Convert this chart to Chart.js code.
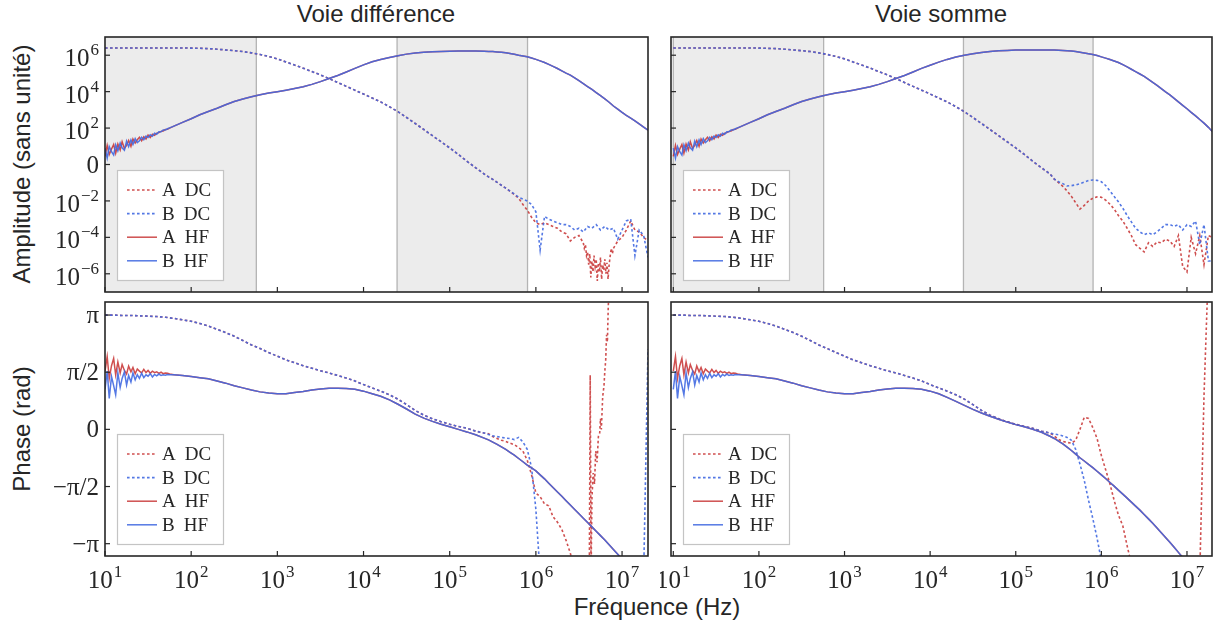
<!DOCTYPE html>
<html lang="fr">
<head>
<meta charset="utf-8">
<title>Voie différence / Voie somme</title>
<script src="https://cdn.jsdelivr.net/npm/chart.js@4.4.1/dist/chart.umd.min.js"></script>
<style>
  html, body { margin: 0; padding: 0; background: #fff; }
  #page { position: relative; width: 1214px; height: 632px; overflow: hidden;
          font-family: "Liberation Sans", Arial, sans-serif; color: #262626; }
  canvas { position: absolute; }
  .lbl { position: absolute; font-size: 24px; line-height: 24px; white-space: nowrap;
         transform: translate(-50%, -50%); }
  .rot { transform: translate(-50%, -50%) rotate(-90deg); }
</style>
</head>
<body>
<div id="page">
  <div class="lbl" style="left:376px; top:14px">Voie différence</div>
  <div class="lbl" style="left:941px; top:14px">Voie somme</div>
  <div class="lbl rot" style="left:22px; top:164px">Amplitude (sans unité)</div>
  <div class="lbl rot" style="left:22px; top:429px">Phase (rad)</div>
  <div class="lbl" style="left:657px; top:607px">Fréquence (Hz)</div>
  <canvas id="ampDiff" width="656" height="268" style="left:0; top:28px"></canvas>
  <canvas id="phaseDiff" width="656" height="300" style="left:0; top:296px"></canvas>
  <canvas id="ampSum" width="554" height="268" style="left:660px; top:28px"></canvas>
  <canvas id="phaseSum" width="554" height="300" style="left:660px; top:296px"></canvas>
</div>
<script>
// ---- frequencies (Hz) ----
// low band, where the HF channels are noisy
var fLow = [10, 10.6, 11.2, 11.9, 12.6, 13.3, 14.1, 15, 15.8, 16.8, 17.8, 18.8, 20, 21.1, 22.4, 23.7,
  25.1, 26.6, 28.2, 29.9, 31.6, 33.5, 35.5, 37.6, 39.8, 42.2, 44.7, 47.3, 50.1, 53.1, 56.2];
var fDcLow = [10, 12.6, 15.8, 20, 25.1, 31.6, 39.8, 50.1];
var fMid = [63.1, 79.4, 100, 126, 158, 200, 251, 316, 398, 501, 631, 794, 1000, 1259, 1585, 1995,
  2512, 3162, 3981, 5012, 6310, 7943, 1e4, 1.26e4, 1.58e4, 2e4, 2.51e4, 3.16e4, 3.98e4, 5.01e4,
  6.31e4, 7.94e4, 1e5, 1.26e5, 1.58e5, 2e5, 2.51e5];
var fHigh = [2.82e5, 3.16e5, 3.55e5, 3.98e5, 4.47e5, 5.01e5, 5.62e5, 6.31e5, 7.08e5, 7.94e5, 8.91e5,
  1e6, 1.12e6, 1.26e6, 1.41e6, 1.58e6, 1.78e6, 2e6, 2.24e6, 2.51e6, 2.82e6, 3.16e6, 3.55e6, 3.98e6,
  4.47e6, 5.01e6, 5.62e6, 6.31e6, 7.08e6, 7.94e6, 8.91e6, 1e7, 1.12e7, 1.26e7, 1.41e7, 1.58e7, 1.78e7, 2e7];
// finer steps where the A DC amplitude (voie différence) is very noisy
var fNoiseDiff = [3.55e6, 3.65e6, 3.76e6, 3.87e6, 3.98e6, 4.10e6, 4.22e6, 4.34e6, 4.47e6, 4.60e6, 4.73e6,
  4.87e6, 5.01e6, 5.16e6, 5.31e6, 5.46e6, 5.62e6, 5.79e6, 5.96e6, 6.13e6, 6.31e6, 6.49e6, 6.68e6, 6.88e6,
  7.08e6, 7.29e6, 7.50e6, 7.72e6, 7.94e6];

// ---- amplitude, in decades (log10 of the amplitude) ----
var hfAmpLowA = [0.45, 1.05, 0.55, 0.85, 1.10, 0.62, 1.12, 0.80, 1.25, 0.88, 1.05, 1.32, 1.00, 1.40, 1.18, 1.36,
  1.50, 1.30, 1.52, 1.40, 1.62, 1.48, 1.66, 1.60, 1.72, 1.75, 1.82, 1.84, 1.92, 1.94, 2.00];
var hfAmpLowB = [0.90, 0.35, 0.98, 0.70, 0.52, 1.08, 0.75, 1.18, 0.92, 0.78, 1.28, 0.98, 1.35, 1.10, 1.42, 1.20,
  1.30, 1.50, 1.36, 1.56, 1.48, 1.63, 1.55, 1.72, 1.66, 1.80, 1.80, 1.90, 1.90, 1.96, 2.01];
var hfAmpDiff = [2.11, 2.31, 2.51, 2.73, 2.91, 3.09, 3.28, 3.46, 3.60, 3.72, 3.83, 3.93, 4.00, 4.08, 4.17, 4.27,
  4.40, 4.55, 4.72, 4.89, 5.08, 5.28, 5.47, 5.64, 5.76, 5.88, 5.97, 6.06, 6.12, 6.16, 6.19, 6.21, 6.22, 6.23,
  6.23, 6.23, 6.22,
  6.21, 6.20, 6.18, 6.16, 6.13, 6.09, 6.05, 6.00, 5.96, 5.91, 5.85, 5.77, 5.69, 5.60, 5.50, 5.39, 5.27, 5.14,
  5.02, 4.91, 4.76, 4.60, 4.44, 4.28, 4.12, 3.95, 3.78, 3.60, 3.42, 3.21, 3.04, 2.86, 2.70, 2.55, 2.40, 2.23,
  2.05, 1.88];
var hfAmpSum = [2.11, 2.31, 2.51, 2.73, 2.91, 3.09, 3.28, 3.46, 3.60, 3.72, 3.83, 3.93, 4.00, 4.08, 4.17, 4.27,
  4.40, 4.55, 4.72, 4.89, 5.08, 5.28, 5.45, 5.62, 5.77, 5.90, 6.00, 6.08, 6.15, 6.20, 6.24, 6.26, 6.28, 6.29,
  6.29, 6.29, 6.28,
  6.28, 6.27, 6.26, 6.25, 6.23, 6.20, 6.16, 6.12, 6.08, 6.04, 5.98, 5.91, 5.84, 5.76, 5.68, 5.60, 5.48, 5.36,
  5.23, 5.10, 4.97, 4.84, 4.67, 4.51, 4.34, 4.17, 3.99, 3.82, 3.63, 3.44, 3.25, 3.06, 2.86, 2.67, 2.47, 2.27,
  2.04, 1.78];
var dcAmpLow = [6.40, 6.40, 6.40, 6.40, 6.40, 6.40, 6.40, 6.40];
var dcAmpMid = [6.40, 6.40, 6.39, 6.38, 6.36, 6.33, 6.29, 6.25, 6.20, 6.13, 6.04, 5.93, 5.80, 5.63, 5.46, 5.29,
  5.10, 4.92, 4.72, 4.50, 4.29, 4.08, 3.87, 3.65, 3.44, 3.17, 2.90, 2.58, 2.25, 1.92, 1.58, 1.25, 0.91, 0.55,
  0.18, -0.18, -0.52];
var dcAmpDiffA = [-0.68, -0.82, -0.98, -1.14, -1.30, -1.47, -1.65, -1.85, -2.2, -2.5, -2.9, -3.2, -3.3, -3.2,
  -3.3, -3.4, -3.5, -3.7, -3.8, -4.2, -4.0, -3.9, -4.3, null, null, null, null, null, null, -4.6, -4.2, -4.0,
  -3.6, -3.1, -3.6, -3.7, -4.0, -4.2];
var dcAmpNoiseDiffA = [-4.3, -4.6, -4.4, -5.0, -4.8, -5.5, -4.9, -6.2, -5.3, -5.9, -5.0, -5.6, -5.2, -6.4, -5.4,
  -5.9, -5.1, -6.3, -5.5, -5.8, -5.2, -6.0, -5.4, -6.3, -5.5, -5.0, -4.6, -4.9, -4.6];
var dcAmpDiffB = [-0.68, -0.82, -0.98, -1.14, -1.30, -1.46, -1.62, -1.80, -1.9, -2.0, -2.2, -2.6, -4.7, -2.85,
  -3.0, -3.1, -3.2, -3.3, -3.3, -3.4, -3.6, -3.5, -3.7, -3.4, -3.5, -3.3, -3.6, -3.4, -3.6, -3.5, -4.1, -3.6,
  -3.1, -3.0, -5.0, -3.6, -3.9, -5.1];
var dcAmpSumA = [-0.80, -1.00, -1.20, -1.45, -1.75, -2.1, -2.45, -2.25, -2.0, -1.85, -1.78, -1.8, -1.95, -2.18,
  -2.45, -2.8, -3.1, -3.5, -3.9, -4.4, -4.6, -4.8, -4.3, -4.5, -4.25, -4.3, -4.1, -4.2, -4.5, -3.9, -5.6, -5.9,
  -4.0, -4.9, -3.9, -5.5, -3.9, -4.0];
var dcAmpSumB = [-0.80, -0.95, -1.05, -1.18, -1.16, -1.12, -1.05, -0.97, -0.88, -0.85, -0.87, -0.95, -1.15,
  -1.45, -1.75, -2.05, -2.4, -2.8, -3.15, -3.5, -3.7, -3.85, -3.75, -3.85, -3.7, -3.5, -3.3, -3.3, -3.4, -3.3,
  -3.6, -3.3, -3.4, -3.1, -4.4, -3.3, -5.3, -5.3];

// ---- phase (rad) ----
var hfPhaseLowA = [1.60, 2.00, 1.40, 1.75, 1.95, 1.50, 1.85, 1.55, 1.78, 1.62, 1.52, 1.74, 1.58, 1.70, 1.53, 1.66,
  1.60, 1.55, 1.65, 1.56, 1.62, 1.54, 1.60, 1.56, 1.58, 1.54, 1.57, 1.53, 1.55, 1.54, 1.52];
var hfPhaseLowB = [1.10, 1.60, 0.85, 1.45, 1.20, 0.95, 1.55, 1.15, 1.40, 1.58, 1.22, 1.48, 1.30, 1.55, 1.36, 1.50,
  1.40, 1.54, 1.42, 1.50, 1.46, 1.53, 1.44, 1.51, 1.47, 1.52, 1.48, 1.50, 1.49, 1.51, 1.50];
var hfPhaseDiff = [1.50, 1.48, 1.45, 1.42, 1.39, 1.33, 1.27, 1.20, 1.14, 1.08, 1.03, 1.00, 0.98, 0.98, 1.01, 1.04,
  1.08, 1.11, 1.13, 1.13, 1.12, 1.10, 1.05, 0.98, 0.91, 0.81, 0.69, 0.56, 0.42, 0.31, 0.22, 0.14, 0.07, 0.00,
  -0.07, -0.15, -0.24,
  -0.29, -0.35, -0.41, -0.48, -0.55, -0.63, -0.71, -0.80, -0.89, -0.98, -1.06, -1.14, -1.25, -1.36, -1.48,
  -1.60, -1.72, -1.84, -1.96, -2.08, -2.20, -2.32, -2.44, -2.56, -2.68, -2.80, -2.92, -3.04, -3.17, -3.30,
  -3.43, -3.56, -3.69, null, null, null, null, null];
var hfPhaseSum = [1.50, 1.48, 1.45, 1.42, 1.39, 1.33, 1.27, 1.20, 1.14, 1.08, 1.03, 1.00, 0.98, 0.98, 1.01, 1.04,
  1.08, 1.11, 1.13, 1.13, 1.12, 1.10, 1.05, 0.98, 0.88, 0.77, 0.66, 0.55, 0.45, 0.36, 0.28, 0.20, 0.13, 0.07,
  0.00, -0.08, -0.19,
  -0.25, -0.32, -0.40, -0.49, -0.58, -0.68, -0.78, -0.87, -0.96, -1.05, -1.15, -1.25, -1.35, -1.46, -1.56,
  -1.67, -1.78, -1.89, -2.00, -2.11, -2.22, -2.34, -2.46, -2.58, -2.71, -2.84, -2.97, -3.10, -3.24, -3.38,
  -3.52, -3.66, null, null, null, null, null, null];
var dcPhaseLow = [3.14, 3.14, 3.13, 3.13, 3.12, 3.11, 3.10, 3.08];
var dcPhaseMid = [3.05, 3.01, 2.97, 2.91, 2.84, 2.75, 2.66, 2.56, 2.44, 2.32, 2.22, 2.11, 2.01, 1.91, 1.83, 1.75,
  1.68, 1.61, 1.55, 1.48, 1.41, 1.33, 1.23, 1.14, 1.05, 0.95, 0.83, 0.68, 0.52, 0.39, 0.29, 0.21, 0.14, 0.08,
  0.03, -0.05, -0.10];
var dcPhaseDiffA = [-0.12, -0.20, -0.25, -0.30, -0.33, -0.38, -0.42, -0.50, -0.60, -0.85, -1.25, -1.75, -1.85,
  -2.05, -2.10, -2.40, -2.55, -2.75, -3.05, -3.40, -3.9,
  null, null, null, null, null, null, null, null, null, null, null, null, null, null, null, null, null];
var fSpikeDiff = [4.17e6, 4.27e6, 4.37e6, 4.47e6, 4.62e6, 4.79e6, 4.95e6, 5.13e6, 5.31e6, 5.5e6, 5.62e6,
  5.75e6, 5.96e6, 6.17e6, 6.31e6, 6.46e6, 6.61e6, 6.76e6, 6.92e6, 7.08e6];
var dcPhaseSpikeDiffA = [-4.0, 1.49, -4.0, -1.9, -1.2, -1.5, -0.6, -0.9, -0.2, -0.1, 0.3, 0.0, 0.9, 1.2, 1.6,
  1.9, 2.6, 2.4, 3.4, 3.8];
var dcPhaseDiffB = [-0.14, -0.18, -0.20, -0.22, -0.24, -0.25, -0.28, -0.22, -0.35, -0.55, -1.05, -2.2, -4.0,
  null, null, null, null, null, null, null, null, null, null, null, null, null, null, null, null, null, null,
  null, null, null, null, null, -4.0, 2.2];
var dcPhaseSumA = [-0.18, -0.28, -0.33, -0.36, -0.38, -0.30, 0.00, 0.33, 0.30, 0.05, -0.25, -0.72, -1.10, -1.50,
  -1.95, -2.35, -2.65, -3.20, -3.70,
  null, null, null, null, null, null, null, null, null, null, null, null, null, null, null, -4.0, 0.9, 4.5, null];
var dcPhaseSumB = [-0.13, -0.15, -0.18, -0.22, -0.30, -0.55, -0.95, -1.40, -1.95, -2.45, -2.99, -3.6,
  null, null, null, null, null, null, null, null, null, null, null, null, null, null, null, null, null, null,
  null, null, null, null, null, null, null, null];

// ---- axes / shading ----
var freqTicks = [1e1, 1e2, 1e3, 1e4, 1e5, 1e6, 1e7];
var freqTickLabels = ['10^{1}', '10^{2}', '10^{3}', '10^{4}', '10^{5}', '10^{6}', '10^{7}'];
var ampTicks = [1e-6, 1e-4, 1e-2, 1, 1e2, 1e4, 1e6];
var ampTickLabels = ['10^{−6}', '10^{−4}', '10^{−2}', '0', '10^{2}', '10^{4}', '10^{6}'];
var phaseTicks = [-Math.PI, -Math.PI / 2, 0, Math.PI / 2, Math.PI];
var phaseTickLabels = ['−π', '−π/2', '0', 'π/2', 'π'];
var bandsF = [[10, 570], [2.45e4, 8.0e5]];

var RED = 'rgba(196, 40, 40, 0.82)';
var BLUE = 'rgba(65, 105, 225, 0.9)';
var INK = '#262626';
var SERIF = "'Liberation Serif', 'DejaVu Serif', serif";
var BASE_FONT = '25px ' + SERIF;
var EXP_FONT = '17px ' + SERIF;

function toPoints(freqs, values, conv) {
  return freqs.map(function (f, i) {
    return { x: f, y: values[i] === null ? null : conv(values[i]) };
  });
}
var dec = function (v) { return Math.pow(10, v); };
var rad = function (v) { return v; };
var GAP = [{ x: 2e7, y: null }];

function serie(label, points, order) {
  var dc = label.indexOf('DC') > 0;
  return {
    label: label,
    data: points,
    order: order,
    borderColor: label[0] === 'A' ? RED : BLUE,
    borderWidth: dc ? 1.6 : 1.5,
    borderDash: dc ? [2.6, 2.4] : [],
    pointRadius: 0,
    tension: 0,
    fill: false,
    clip: 0,
    spanGaps: false
  };
}

// tick label like 10^{-6}: base + raised exponent
function drawTickLabel(ctx, text, x, baseline, align) {
  var m = /^(.*)\^\{(.*)\}$/.exec(text);
  var base = m ? m[1] : text, exp = m ? m[2] : '';
  ctx.font = BASE_FONT;
  var wb = ctx.measureText(base).width;
  ctx.font = EXP_FONT;
  var we = exp ? ctx.measureText(exp).width + 1 : 0;
  var left = align === 'right' ? x - wb - we : x - (wb + we) / 2;
  ctx.textAlign = 'left';
  ctx.textBaseline = 'alphabetic';
  ctx.fillStyle = INK;
  ctx.font = BASE_FONT;
  ctx.fillText(base, left, baseline);
  if (exp) {
    ctx.font = EXP_FONT;
    ctx.fillText(exp, left + wb + 1, baseline - 11);
  }
}

// bands, frame, inward ticks, tick labels and legend box
var decor = {
  id: 'decor',
  beforeDatasetsDraw: function (chart, args, o) {
    if (!o.bands) return;
    var ctx = chart.ctx, a = chart.chartArea, x = chart.scales.x;
    ctx.save();
    o.bands.forEach(function (b) {
      var x0 = Math.max(a.left, x.getPixelForValue(b[0]));
      var x1 = Math.min(a.right, x.getPixelForValue(b[1]));
      ctx.fillStyle = '#ececec';
      ctx.fillRect(x0, a.top, x1 - x0, a.bottom - a.top);
      ctx.strokeStyle = '#b4b4b4';
      ctx.lineWidth = 1.3;
      [x0, x1].forEach(function (px) {
        if (px > a.left + 1 && px < a.right - 1) {
          ctx.beginPath(); ctx.moveTo(px, a.top); ctx.lineTo(px, a.bottom); ctx.stroke();
        }
      });
    });
    ctx.restore();
  },
  afterDatasetsDraw: function (chart, args, o) {
    var ctx = chart.ctx, a = chart.chartArea, x = chart.scales.x, y = chart.scales.y;
    ctx.save();
    ctx.strokeStyle = INK;
    ctx.lineWidth = 1.2;
    x.ticks.forEach(function (t, i) {
      var px = x.getPixelForValue(t.value);
      if (px < a.left - 1 || px > a.right) return;
      ctx.beginPath(); ctx.moveTo(px, a.bottom); ctx.lineTo(px, a.bottom - 5); ctx.stroke();
      if (o.xLabels) drawTickLabel(ctx, o.xLabels[i], px, a.bottom + 32, 'center');
    });
    y.ticks.forEach(function (t, i) {
      var py = y.getPixelForValue(t.value);
      ctx.strokeStyle = INK;
      ctx.lineWidth = 1.2;
      ctx.beginPath(); ctx.moveTo(a.left, py); ctx.lineTo(a.left + 5, py); ctx.stroke();
      if (o.yLabels) {
        var txt = o.yLabels[i];
        drawTickLabel(ctx, txt, a.left - 6, py + (txt.indexOf('^') > 0 ? 11 : 8), 'right');
      }
    });
    ctx.strokeStyle = INK;
    ctx.lineWidth = 1.6;
    ctx.strokeRect(a.left, a.top, a.right - a.left, a.bottom - a.top);

    // legend, lower left corner
    var bx = a.left + 12, bw = 106, bh = 110, by = a.bottom - 12 - bh;
    ctx.fillStyle = '#ffffff';
    ctx.fillRect(bx, by, bw, bh);
    ctx.strokeStyle = '#c4c4c4';
    ctx.lineWidth = 1.2;
    ctx.strokeRect(bx + 0.5, by + 0.5, bw, bh);
    ctx.font = '19px ' + SERIF;
    ctx.textBaseline = 'middle';
    ctx.textAlign = 'left';
    chart.data.datasets.forEach(function (ds, i) {
      var cy = by + 20 + i * 23.6;
      ctx.setLineDash(ds.borderDash);
      ctx.strokeStyle = ds.borderColor;
      ctx.lineWidth = ds.borderWidth;
      ctx.beginPath(); ctx.moveTo(bx + 10, cy); ctx.lineTo(bx + 40, cy); ctx.stroke();
      ctx.setLineDash([]);
      ctx.fillStyle = INK;
      var parts = ds.label.split(' ');
      ctx.fillText(parts[0], bx + 45, cy + 1);
      ctx.fillText(parts[1], bx + 45 + ctx.measureText(parts[0]).width + 9, cy + 1);
    });
    ctx.restore();
  }
};

function noPad(s) { s.paddingLeft = 0; s.paddingRight = 0; s.paddingTop = 0; s.paddingBottom = 0; }

function panel(id, c) {
  return new Chart(document.getElementById(id), {
    type: 'line',
    data: { datasets: c.datasets },
    options: {
      responsive: false,
      animation: false,
      devicePixelRatio: 1,
      layout: { autoPadding: false, padding: { left: 0, top: c.padTop, right: c.padRight, bottom: 0 } },
      plugins: {
        legend: { display: false },
        tooltip: { enabled: false },
        decor: { bands: c.bands, xLabels: c.xLabels, yLabels: c.yLabels }
      },
      scales: {
        x: {
          type: 'logarithmic',
          min: c.xMin,
          max: c.xMax,
          afterBuildTicks: function (s) { s.ticks = freqTicks.map(function (v) { return { value: v }; }); },
          afterFit: function (s) { s.height = c.xHeight; noPad(s); },
          grid: { display: false, drawTicks: false },
          border: { display: false },
          ticks: { display: false }
        },
        y: {
          type: c.yType,
          min: c.yMin,
          max: c.yMax,
          afterBuildTicks: function (s) { s.ticks = c.yTicks.map(function (v) { return { value: v }; }); },
          afterFit: function (s) { s.width = c.yWidth; noPad(s); },
          grid: { display: false, drawTicks: false },
          border: { display: false },
          ticks: { display: false }
        }
      }
    },
    plugins: [decor]
  });
}

var fHF = fLow.concat(fMid, fHigh);
var fDC = fDcLow.concat(fMid, fHigh);

panel('ampDiff', {
  datasets: [
    serie('A DC', toPoints(fDC, dcAmpLow.concat(dcAmpMid, dcAmpDiffA), dec)
      .concat(GAP, toPoints(fNoiseDiff, dcAmpNoiseDiffA, dec)), 3),
    serie('B DC', toPoints(fDC, dcAmpLow.concat(dcAmpMid, dcAmpDiffB), dec), 2),
    serie('A HF', toPoints(fHF, hfAmpLowA.concat(hfAmpDiff), dec), 1),
    serie('B HF', toPoints(fHF, hfAmpLowB.concat(hfAmpDiff), dec), 0)
  ],
  xMin: 10, xMax: 2e7, yType: 'logarithmic', yMin: 1e-7, yMax: 1e7,
  yTicks: ampTicks, yLabels: ampTickLabels, xLabels: null, bands: bandsF,
  padTop: 9, padRight: 8, yWidth: 105, xHeight: 4
});

panel('phaseDiff', {
  datasets: [
    serie('A DC', toPoints(fDC, dcPhaseLow.concat(dcPhaseMid, dcPhaseDiffA), rad)
      .concat(GAP, toPoints(fSpikeDiff, dcPhaseSpikeDiffA, rad)), 3),
    serie('B DC', toPoints(fDC, dcPhaseLow.concat(dcPhaseMid, dcPhaseDiffB), rad), 2),
    serie('A HF', toPoints(fHF, hfPhaseLowA.concat(hfPhaseDiff), rad), 1),
    serie('B HF', toPoints(fHF, hfPhaseLowB.concat(hfPhaseDiff), rad), 0)
  ],
  xMin: 10, xMax: 2e7, yType: 'linear', yMin: -3.48, yMax: 3.5,
  yTicks: phaseTicks, yLabels: phaseTickLabels, xLabels: freqTickLabels, bands: null,
  padTop: 6, padRight: 8, yWidth: 105, xHeight: 40
});

panel('ampSum', {
  datasets: [
    serie('A DC', toPoints(fDC, dcAmpLow.concat(dcAmpMid, dcAmpSumA), dec), 3),
    serie('B DC', toPoints(fDC, dcAmpLow.concat(dcAmpMid, dcAmpSumB), dec), 2),
    serie('A HF', toPoints(fHF, hfAmpLowA.concat(hfAmpSum), dec), 1),
    serie('B HF', toPoints(fHF, hfAmpLowB.concat(hfAmpSum), dec), 0)
  ],
  xMin: 9.4, xMax: 1.96e7, yType: 'logarithmic', yMin: 1e-7, yMax: 1e7,
  yTicks: ampTicks, yLabels: null, xLabels: null, bands: bandsF,
  padTop: 9, padRight: 2, yWidth: 11, xHeight: 4
});

panel('phaseSum', {
  datasets: [
    serie('A DC', toPoints(fDC, dcPhaseLow.concat(dcPhaseMid, dcPhaseSumA), rad), 3),
    serie('B DC', toPoints(fDC, dcPhaseLow.concat(dcPhaseMid, dcPhaseSumB), rad), 2),
    serie('A HF', toPoints(fHF, hfPhaseLowA.concat(hfPhaseSum), rad), 1),
    serie('B HF', toPoints(fHF, hfPhaseLowB.concat(hfPhaseSum), rad), 0)
  ],
  xMin: 9.4, xMax: 1.96e7, yType: 'linear', yMin: -3.48, yMax: 3.5,
  yTicks: phaseTicks, yLabels: null, xLabels: freqTickLabels, bands: null,
  padTop: 6, padRight: 2, yWidth: 11, xHeight: 40
});
</script>
</body>
</html>
